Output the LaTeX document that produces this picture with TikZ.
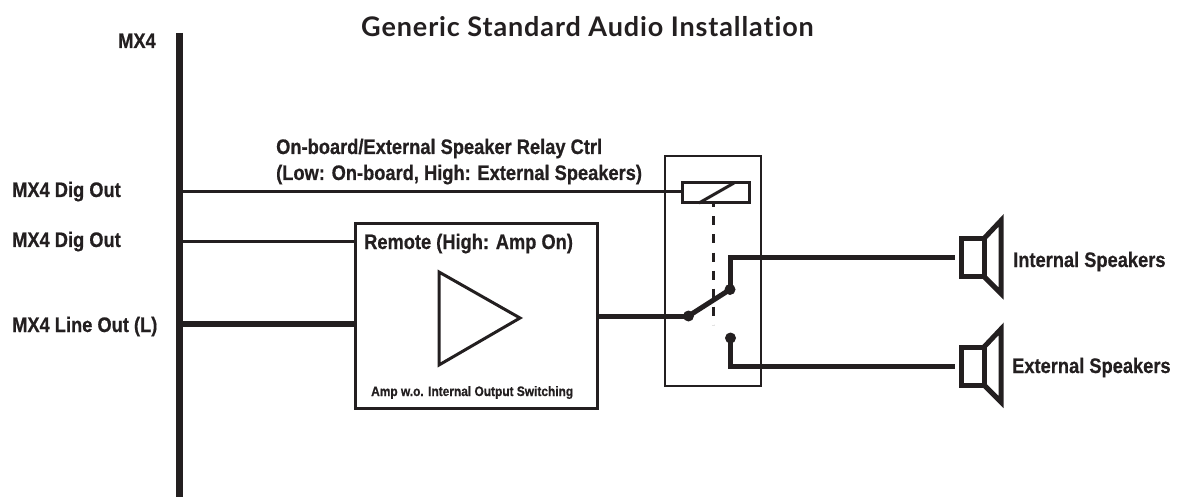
\documentclass[tikz,border=0pt]{standalone}
\usepackage{fontspec}
\setmainfont{Liberation Sans}
\newfontfamily\condf[FakeStretch=0.87,BoldFeatures={FakeStretch=0.87,FakeBold=0.6}]{Liberation Sans}
\newfontfamily\titlef[LetterSpace=3.3,Ligatures=NoCommon]{Lato}
\definecolor{ink}{HTML}{231F20}
\tikzset{
  lbl/.style={font=\condf\bfseries\fontsize{21}{24}\selectfont,text=ink,inner sep=0pt,anchor=base west},
  small/.style={font=\condf\bfseries\fontsize{13.7}{15}\selectfont,text=ink,inner sep=0pt,anchor=base west},
  ttl/.style={font=\titlef\bfseries\fontsize{27}{30}\selectfont,text=ink,inner sep=0pt,anchor=base west},
  wire/.style={draw=ink,line width=3pt},
  hwire/.style={draw=ink,line width=5pt,line join=miter},
  boxthick/.style={draw=ink,line width=3pt,inner sep=0pt},
  dotn/.style={circle,fill=ink,inner sep=0pt,minimum size=11pt},
  spk/.style={draw=ink,line width=5pt,line join=miter,miter limit=10},
  frame/.style={draw=ink,line width=1.4pt},
}
\begin{document}
\begin{tikzpicture}[x=1pt,y=-1pt]
\useasboundingbox (0,0) rectangle (1178,497);
% bus
\coordinate (bt) at (179.5,33);
\coordinate (bb) at (179.5,497);
\draw[hwire,line width=7pt] (bt) -- (bb);
% relay frame
\node[frame,minimum width=96pt,minimum height=230pt,inner sep=0pt] (relay) at (713,271) {};
% coil
\node[boxthick,minimum width=67pt,minimum height=20pt] (coil) at (715.5,193) {};
\coordinate (cd1) at (699,203);
\coordinate (cd2) at (734,183);
\draw[wire] (cd1) -- (cd2);
% amp
\node[boxthick,minimum width=242pt,minimum height=184pt] (amp) at (476,316) {};
\coordinate (t1) at (439,272);
\coordinate (t2) at (520,318);
\coordinate (t3) at (439,365);
\draw[draw=ink,line width=3pt,line join=miter] (t1) -- (t2) -- (t3) -- cycle;
% bus tap points
\coordinate (b1) at (179.5,192);
\coordinate (b2) at (179.5,241.5);
\coordinate (b3) at (179.5,324);
\coordinate (a1) at (355,241.5);
\coordinate (a3) at (355,324);
\coordinate (ao) at (597,316);
\coordinate (cin) at (682,192);
\draw[wire] (b1) -- (cin);
\draw[wire] (b2) -- (a1);
\draw[hwire,line width=6.5pt] (b3) -- (a3);
% switch
\node[dotn] (s0) at (688.5,316) {};
\node[dotn] (s1) at (730,289.5) {};
\node[dotn] (s2) at (730.5,338) {};
\draw[hwire] (ao) -- (s0.center);
\draw[hwire] (s0.center) -- (s1.center);
% mechanical link
\coordinate (m1) at (713,204.5);
\coordinate (m2) at (713,324.5);
\draw[draw=ink,line width=3pt,dash pattern=on 9pt off 9pt,dash phase=6pt] (m1) -- (m2);
% speakers
\coordinate (si) at (955,257.5);
\coordinate (se) at (955,366);
\draw[hwire] (s1.center) |- (si);
\draw[hwire] (s2.center) |- (se);
\foreach \n/\y in {i/257.5,e/366}{
  \draw[spk] (961.5,\y-19) rectangle (984,\y+19);
  \draw[spk] (984,\y-19) -- (1001,\y-37) -- (1001,\y+36) -- (984,\y+19);
}
% text
\node[ttl] (title) at (361,37) {Generic Standard Audio Installation};
\node[lbl] (l0) at (118,48) {MX4};
\node[lbl] (l1) at (12,197) {MX4 Dig Out};
\node[lbl] (l2) at (12,247) {MX4 Dig Out};
\node[lbl] (l3) at (12,332) {MX4 Line Out (L)};
\node[lbl] (l4) at (276,154) {On-board/External Speaker Relay Ctrl};
\node[lbl] (l5) at (276,180) {(Low: On-board, High: External Speakers)};
\node[lbl] (l6) at (364,249) {Remote (High: Amp On)};
\node[small] (l7) at (371,396) {Amp w.o. Internal Output Switching};
\node[lbl] (l8) at (1013,267) {Internal Speakers};
\node[lbl] (l9) at (1012,373) {External Speakers};
\end{tikzpicture}
\end{document}
